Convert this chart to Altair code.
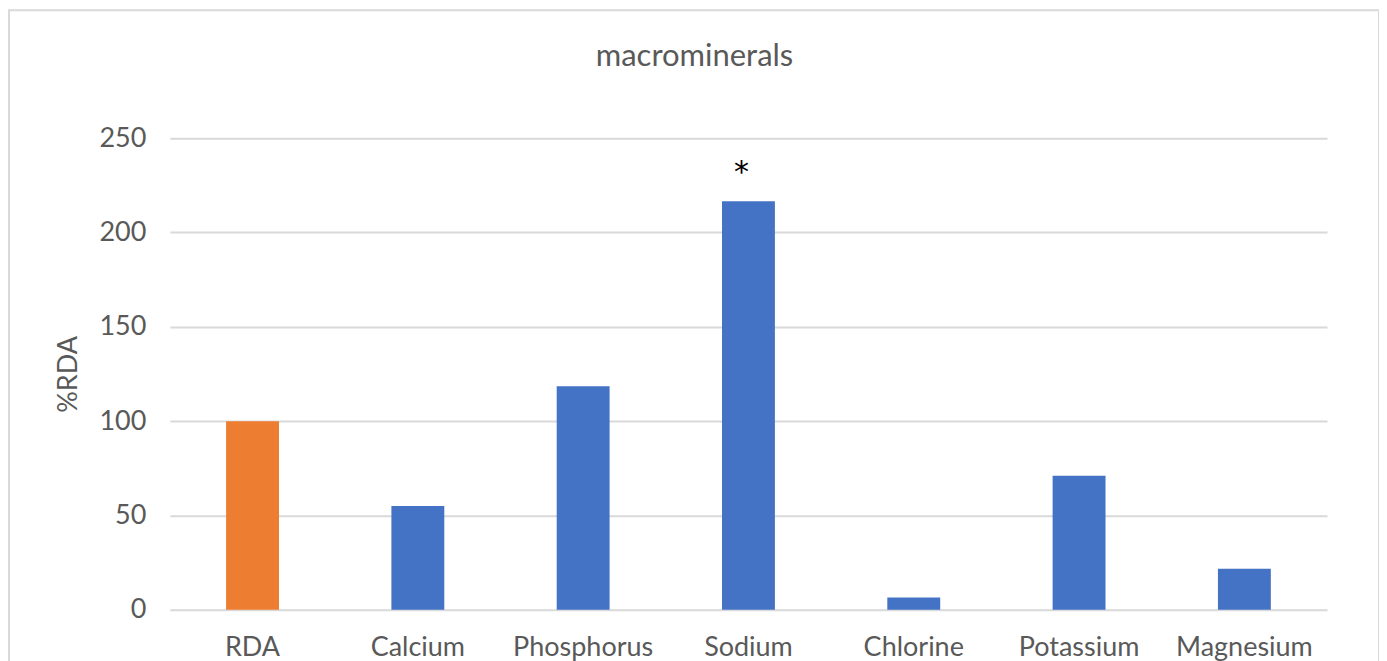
import altair as alt
import pandas as pd

categories = ["RDA", "Calcium", "Phosphorus", "Sodium", "Chlorine", "Potassium", "Magnesium"]
values = [100, 55, 118.5, 216.5, 6.5, 71, 21.7]
bar_colors = ["#ED7D31", "#4472C4", "#4472C4", "#4472C4", "#4472C4", "#4472C4", "#4472C4"]
y_ticks = [0, 50, 100, 150, 200, 250]
note_category = ["Sodium"]
note_value = [216.5]
note_text = ["*"]

df = pd.DataFrame({"mineral": categories, "pct": values, "color": bar_colors})
notes = pd.DataFrame({"mineral": note_category, "pct": note_value, "label": note_text})

FONT = "Lato"
GRAY = "#595959"
yscale = alt.Scale(domain=[0, 250], nice=False, zero=True)

x_enc = alt.X(
    "mineral:N",
    sort=categories,
    scale=alt.Scale(paddingInner=0.68, paddingOuter=0.34),
    axis=alt.Axis(title=None, labelAngle=0, ticks=False, domain=False,
                  labelFontSize=27, labelColor=GRAY, labelFont=FONT,
                  labelPadding=25, grid=False),
)

bars = alt.Chart(df).mark_bar().encode(
    x=x_enc,
    y=alt.Y("pct:Q", scale=yscale,
            axis=alt.Axis(values=y_ticks, title="%RDA", ticks=False, domain=False,
                          labelFontSize=27, labelColor=GRAY, labelFont=FONT,
                          labelPadding=24, titleFontSize=27, titleColor=GRAY,
                          titleFont=FONT, titleFontWeight="normal", titlePadding=16,
                          gridColor="#d9d9d9", gridWidth=2)),
    color=alt.Color("color:N", scale=None),
)

star = alt.Chart(notes).mark_text(fontSize=30, font="DejaVu Sans", color="#000000",
                                  baseline="middle", dy=-28, dx=-7).encode(
    x=alt.X("mineral:N", sort=categories),
    y=alt.Y("pct:Q", scale=yscale),
    text="label:N",
)

frame = alt.Chart(pd.DataFrame({"a": [0]})).mark_rect(
    fill=None, stroke="#d9d9d9", strokeWidth=2
).encode(
    x=alt.value(-161), x2=alt.value(1210), y=alt.value(-128), y2=alt.value(560)
)

chart = alt.layer(bars, star, frame).properties(
    width=1158,
    height=472,
    title=alt.TitleParams("macrominerals", fontSize=31, font=FONT, color=GRAY,
                          fontWeight="normal", dx=-54, offset=-64),
    autosize=alt.AutoSizeParams(type="none"),
    padding={"left": 162, "top": 130, "right": 52, "bottom": 51},
).configure_view(stroke=None)

chart.save("out.html", embed_options={"renderer": "svg", "actions": False})
